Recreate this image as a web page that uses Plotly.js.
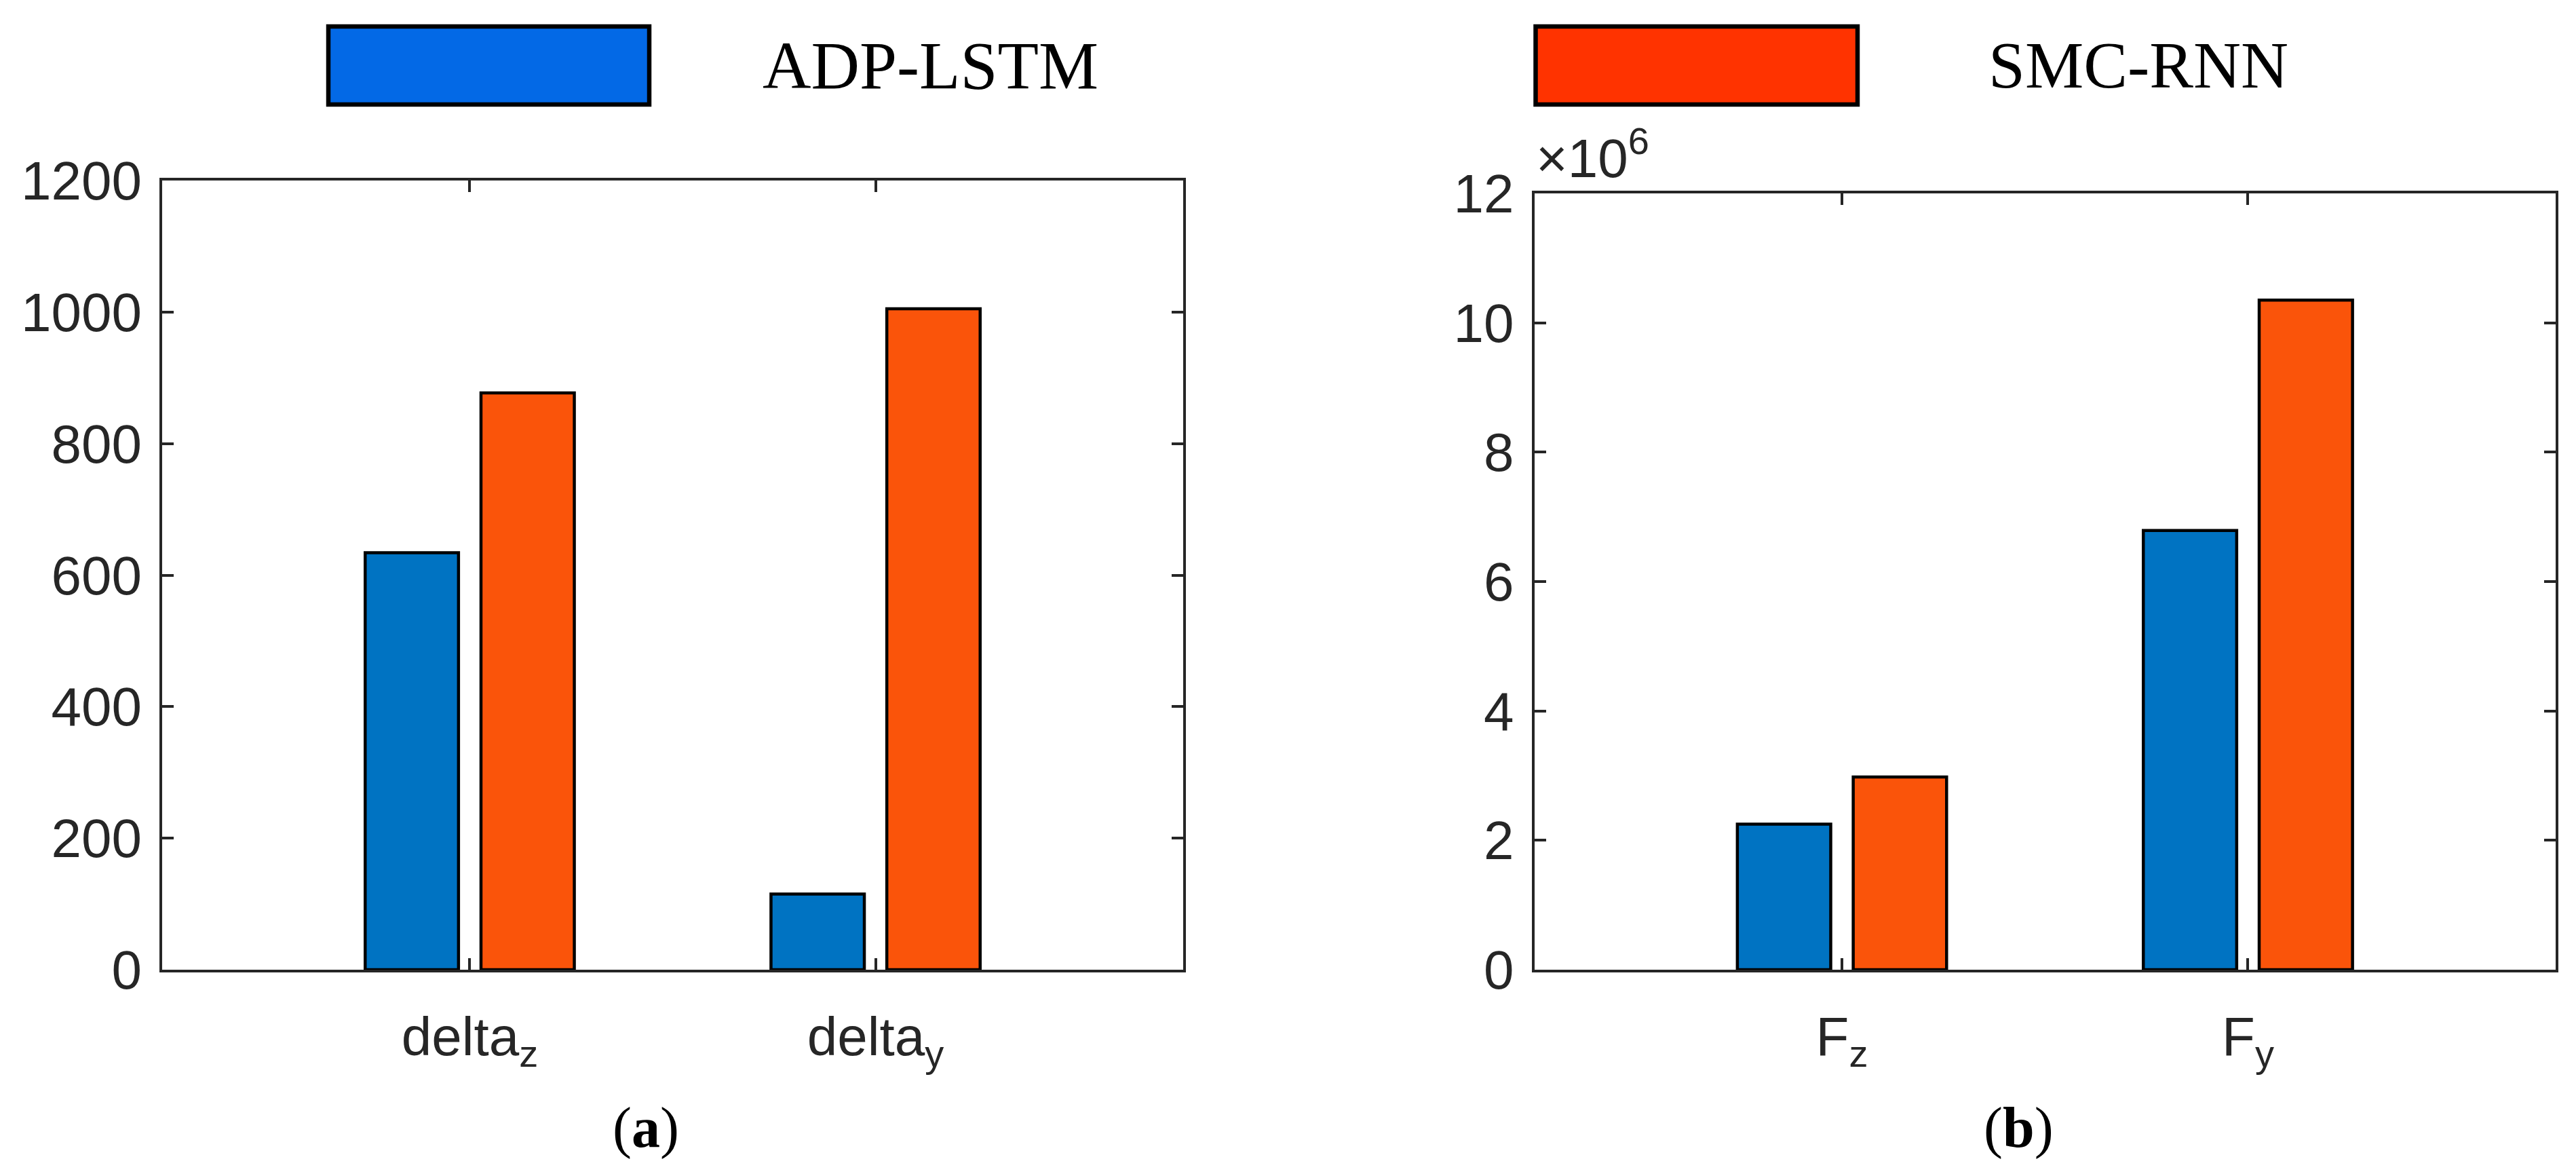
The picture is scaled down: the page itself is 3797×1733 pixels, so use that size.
<!DOCTYPE html>
<html>
<head>
<meta charset="utf-8">
<script src="https://cdn.plot.ly/plotly-3.0.1.min.js"></script>
<style>html,body{margin:0;padding:0;background:#fff;}#chart{width:3797px;height:1733px;}</style>
</head>
<body>
<div id="chart"></div>
<script>
// ---- data ----
const seriesNames = ['ADP-LSTM', 'SMC-RNN'];
const categoriesA = ['delta<sub>z</sub>', 'delta<sub>y</sub>'];
const adpA = [634, 115];
const smcA = [877, 1005];
const categoriesB = ['F<sub>z</sub>', 'F<sub>y</sub>'];
const adpB = [2.25e6, 6.79e6];
const smcB = [2.98e6, 10.35e6];
const yTicksA = [0, 200, 400, 600, 800, 1000, 1200];
const yTickValsB = [0, 2e6, 4e6, 6e6, 8e6, 10e6, 12e6];
const yTickTextB = ['0', '2', '4', '6', '8', '10', '12'];
const panelLabels = ['(<b>a</b>)', '(<b>b</b>)'];

// ---- styling ----
const W = 3797, H = 1733;
const px = x => x / W;
const py = y => 1 - y / H;
const barColors = ['#0073C2', '#FA540A'];
const legendColors = ['#0369E6', '#FF3300'];
const axisColor = '#262626';
const tickFont = {family: 'Liberation Sans, Arial, sans-serif', size: 80, color: axisColor};
const serif = 'Liberation Serif, Times New Roman, serif';
const barWidth = 0.23;
const offsets = [-0.2577, 0.0277];

function bar(xs, ys, i, xa, ya) {
  return {
    type: 'bar', x: xs, y: ys, name: seriesNames[i],
    width: barWidth, offset: offsets[i],
    marker: {color: barColors[i], line: {color: '#000', width: 4.5}},
    xaxis: xa, yaxis: ya, showlegend: false, hoverinfo: 'skip'
  };
}

const pos = [1, 2];
const data = [
  bar(pos, adpA, 0, 'x', 'y'),
  bar(pos, smcA, 1, 'x', 'y'),
  bar(pos, adpB, 0, 'x2', 'y2'),
  bar(pos, smcB, 1, 'x2', 'y2')
];

function xAxis(domain, cats, anchor) {
  return {
    domain: domain, range: [0.242, 2.758], anchor: anchor,
    tickmode: 'array', tickvals: pos, ticktext: cats,
    ticks: 'inside', ticklen: 17, tickwidth: 4, tickcolor: axisColor,
    showline: true, linewidth: 4, linecolor: axisColor, mirror: 'allticks',
    showgrid: false, zeroline: false, tickfont: tickFont, fixedrange: true,
    ticklabelstandoff: 26
  };
}
function yAxis(domain, vals, text, range, anchor) {
  return {
    domain: domain, range: range, anchor: anchor,
    tickmode: 'array', tickvals: vals, ticktext: text,
    ticks: 'inside', ticklen: 17, tickwidth: 4, tickcolor: axisColor,
    showline: true, linewidth: 4, linecolor: axisColor, mirror: 'allticks',
    showgrid: false, zeroline: false, tickfont: tickFont, fixedrange: true,
    ticklabelstandoff: 10
  };
}

const layout = {
  width: W, height: H,
  margin: {l: 0, r: 0, t: 0, b: 0, pad: 0},
  paper_bgcolor: '#fff', plot_bgcolor: '#fff',
  barmode: 'overlay',
  xaxis: xAxis([px(239), px(1744)], categoriesA, 'y'),
  yaxis: yAxis([py(1429), py(266)], yTicksA, yTicksA.map(String), [0, 1200], 'x'),
  xaxis2: xAxis([px(2261.5), px(3767)], categoriesB, 'y2'),
  yaxis2: yAxis([py(1429), py(285)], yTickValsB, yTickTextB, [0, 12e6], 'x2'),
  shapes: [
    {type: 'rect', xref: 'paper', yref: 'paper', x0: px(484), x1: px(957), y0: py(39), y1: py(154),
     fillcolor: legendColors[0], line: {color: '#000', width: 6.5}},
    {type: 'rect', xref: 'paper', yref: 'paper', x0: px(2263.5), x1: px(2738), y0: py(39), y1: py(154),
     fillcolor: legendColors[1], line: {color: '#000', width: 6.5}}
  ],
  annotations: [
    {xref: 'paper', yref: 'paper', x: px(1122), y: py(96), xanchor: 'left', yanchor: 'middle',
     text: seriesNames[0], showarrow: false, font: {family: serif, size: 99, color: '#000'}},
    {xref: 'paper', yref: 'paper', x: px(2929), y: py(96), xanchor: 'left', yanchor: 'middle',
     text: seriesNames[1], showarrow: false, font: {family: serif, size: 97, color: '#000'}},
    {xref: 'paper', yref: 'paper', x: px(2262), y: py(280), xanchor: 'left', yanchor: 'bottom',
     text: '×10<sup>6</sup>', showarrow: false, font: tickFont},
    {xref: 'paper', yref: 'paper', x: px(952), y: py(1662), xanchor: 'center', yanchor: 'middle',
     text: panelLabels[0], showarrow: false, font: {family: serif, size: 84, color: '#000'}},
    {xref: 'paper', yref: 'paper', x: px(2975), y: py(1662), xanchor: 'center', yanchor: 'middle',
     text: panelLabels[1], showarrow: false, font: {family: serif, size: 84, color: '#000'}}
  ]
};

Plotly.newPlot('chart', data, layout, {staticPlot: true, displayModeBar: false});
</script>
</body>
</html>
